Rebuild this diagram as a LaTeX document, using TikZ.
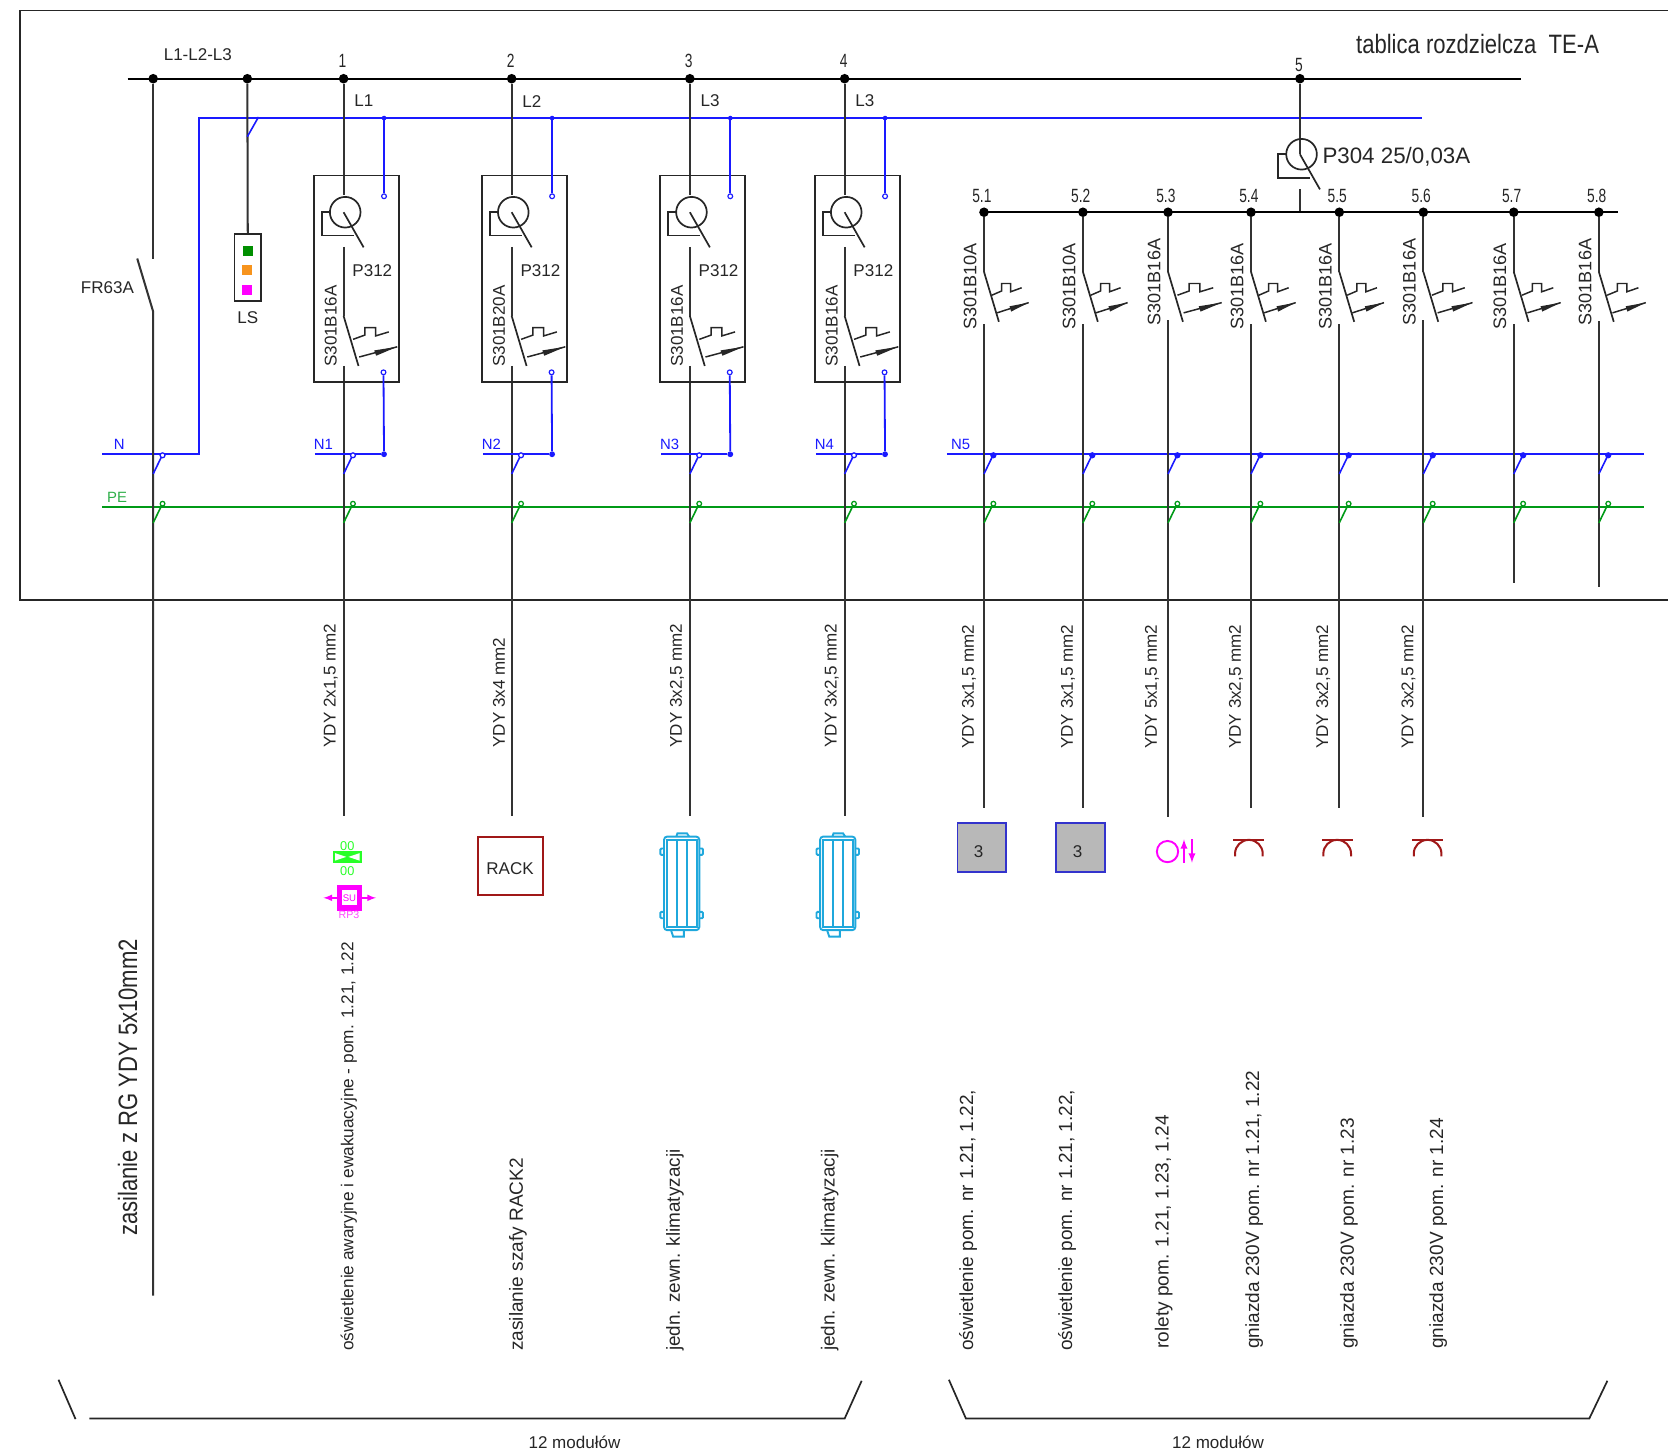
\documentclass[tikz,border=0pt]{standalone}
\usepackage{fontspec}
\setmainfont{Liberation Sans}
\usepackage{graphicx}
\usetikzlibrary{arrows}

\definecolor{nblue}{HTML}{1A1AFF}
\definecolor{pegreen}{HTML}{009A17}
\definecolor{petext}{HTML}{2FAF4A}
\definecolor{unitblue}{HTML}{1FA8DC}
\definecolor{sockred}{HTML}{A01818}
\definecolor{rollmag}{RGB}{255,0,255}
\definecolor{emgreen}{RGB}{40,255,40}
\definecolor{lampgrey}{HTML}{B8B8B8}
\definecolor{lampblue}{HTML}{3333CC}
\definecolor{lsgreen}{HTML}{008F00}
\definecolor{lsorange}{HTML}{F7941D}

\tikzset{
    wire/.style={line width=1.9pt,black!80},
    bus/.style={line width=2pt,black},
    symline/.style={line width=1.6pt,black!85},
    nline/.style={line width=1.7pt,nblue},
    peline/.style={line width=1.7pt,pegreen},
    txt/.style={font=\fontsize{16}{18}\selectfont,inner sep=0pt,text=black!85},
    vtxt/.style={txt,rotate=90,anchor=west},
    desctxt/.style={vtxt,font=\fontsize{17.9}{20}\selectfont},
    numtxt/.style={txt,font=\fontsize{18}{20}\selectfont},
    dot/.style={circle,fill=black,inner sep=0pt,minimum size=9pt},
    unitline/.style={line width=1.8pt,unitblue},
    modbox/.style={draw,line width=1.6pt,black!85,inner sep=0pt},
    ntxt/.style={txt,text=nblue,font=\fontsize{14}{16}\selectfont}
}

\newcommand{\narrow}[1]{\scalebox{.72}[1]{#1}}

\newcommand{\rcdsym}[2]{
    \begin{scope}[shift={(#1,#2)}]
        \draw[symline] (1.5,0) circle (14.4);
        \draw[symline] (-12.5,0) -- (-20.5,0) -- (-20.5,22) -- (9.5,22);
        \draw[symline] (0,0) -- (18.8,33);
    \end{scope}
}
\newcommand{\breakersym}[3]{
    \begin{scope}[shift={(#1,#2)}]
        \draw[symline] (0,0) -- (14,47);
        \begin{scope}[xscale=#3]
            \draw[symline,line width=1.4pt] (7.4,22) -- (16.6,18) -- (16.6,11) -- (25,11) -- (25,18.8) -- (35.4,15);
            \draw[symline,line width=1.4pt] (12.2,38.6) -- (42,29);
            \fill[black!85] (42,29) -- (24,32.4) -- (25.5,37.4) -- cycle;
        \end{scope}
    \end{scope}
}
\newcommand{\ntap}[2]{
    \draw[line width=1.5pt,nblue] (#1,445.5) -- (#1+8,429);
    \draw[line width=1.2pt,nblue,fill=#2] (#1+8.8,428) circle (2.3);
}
\newcommand{\petap}[1]{
    \draw[line width=1.5pt,pegreen] (#1,491.5) -- (#1+8,475);
    \draw[line width=1.2pt,pegreen] (#1+8.8,473.5) circle (2.2);
}
\newcommand{\climunit}[1]{
    \begin{scope}[shift={(#1,830.4)}]
        \draw[unitline,rounded corners=3pt] (-16.6,-44) rectangle (16.6,44);
        \draw[unitline] (-14,-41) rectangle (14,41);
        \draw[unitline] (-4.7,-41) -- (-4.7,41) (4.7,-41) -- (4.7,41);
        \draw[unitline] (-5,-44) -- (-4,-47) -- (5,-47) -- (7,-44);
        \draw[unitline] (-10,44) -- (-8,50) -- (2,50) -- (2,45);
        \foreach \sx/\sy in {-1/-1,1/-1,-1/1,1/1}
            \draw[unitline,rounded corners=1pt] (\sx*16.6,\sy*29.8-3) -- (\sx*20,\sy*29.8-3) -- (\sx*20,\sy*29.8+3) -- (\sx*16.6,\sy*29.8+3);
    \end{scope}
}

\begin{document}
\begin{tikzpicture}[x=1pt,y=-1pt]
    \useasboundingbox (0,0) rectangle (1568,1363);

    \coordinate (frameA) at (1568,10);
    \coordinate (frameB) at (19,10);
    \coordinate (frameC) at (19,564);
    \coordinate (frameD) at (1568,564);
    \draw[line width=1.6pt,black!85] (frameA) -- (frameB) -- (frameC) -- (frameD);

    \coordinate (busL) at (120,74);
    \coordinate (busR) at (1430,74);
    \draw[bus] (busL) -- (busR);
    \coordinate (busNa) at (96,427);
    \coordinate (busNb) at (187,427);
    \coordinate (busNc) at (187,111);
    \coordinate (busNd) at (1337,111);
    \draw[nline] (busNa) -- (busNb) -- (busNc) -- (busNd);
    \coordinate (busNe) at (890,427);
    \coordinate (busNf) at (1545,427);
    \draw[nline] (busNe) -- (busNf);
    \coordinate (busPa) at (96,476.5);
    \coordinate (busPb) at (1545,476.5);
    \draw[peline] (busPa) -- (busPb);

    \node[txt] (title) at (1389,41) {\fontsize{25}{27}\selectfont\scalebox{.83}[1]{tablica rozdzielcza\ \ TE-A}};
    \node[txt] (busname) at (186,51) {L1-L2-L3};

    % incoming feeder
    \node[dot] (dotIn) at (144,74) {};
    \coordinate (swA) at (144,243);
    \coordinate (swB) at (129,243);
    \coordinate (swC) at (144,293);
    \coordinate (feedEnd) at (144,1218);
    \draw[wire] (dotIn) -- (swA);
    \draw[wire] (swB) -- (swC) -- (feedEnd);
    \node[txt] (fr) at (101,270) {FR63A};
    \node[vtxt,font=\fontsize{25}{27}\selectfont] (feedtxt) at (120,1162) {\scalebox{.83}[1]{zasilanie z RG YDY 5x10mm2}};
    \ntap{144}{white}
    \petap{144}

    % surge arrester
    \node[dot] (dotLs) at (232.5,74) {};
    \node[modbox,minimum width=25pt,minimum height=63pt] (lsbox) at (233,251.5) {};
    \draw[wire] (dotLs) -- (lsbox);
    \draw[line width=1.5pt,nblue] (232.5,128.5) -- (243,110);
    \fill[lsgreen] (228.3,231.3) rectangle ++(9.4,9.4);
    \fill[lsorange] (227.6,249.3) rectangle ++(9.4,9.4);
    \fill[rollmag] (227.6,267.9) rectangle ++(9.4,9.4);
    \node[txt] (ls) at (233,298.5) {LS};

    % feeders with P312
    \foreach \n/\x/\ph/\brk/\cable/\dx/\desc/\dfont in {
        1/323/L1/S301B16A/{YDY 2x1,5 mm2}/5/{oświetlenie awaryjne i ewakuacyjne - pom. 1.21, 1.22}/16.2,
        2/481/L2/S301B20A/{YDY 3x4 mm2}/6/{zasilanie szafy RACK2}/17.9,
        3/648.5/L3/S301B16A/{YDY 3x2,5 mm2}/-14/{jedn. zewn. klimatyzacji}/17.8,
        4/794/L3/S301B16A/{YDY 3x2,5 mm2}/-14/{jedn. zewn. klimatyzacji}/17.8} {
        \node[dot] (dot\n) at (\x,74) {};
        \coordinate (rcdIn\n) at (\x,183);
        \coordinate (midA\n) at (\x,232);
        \coordinate (midB\n) at (\x,297);
        \coordinate (out\n) at (\x,344);
        \coordinate (end\n) at (\x,767);
        \draw[wire] (dot\n) -- (rcdIn\n);
        \draw[wire] (midA\n) -- (midB\n);
        \draw[wire] (out\n) -- (end\n);
        \node[modbox,minimum width=80pt,minimum height=194pt] (modbox\n) at (\x+12,262) {};
        \rcdsym{\x}{199.5}
        \breakersym{\x}{297}{1.2}
        \coordinate (nT\n) at (\x+38,111);
        \node[circle,draw=nblue,line width=1.1pt,inner sep=0pt,minimum size=4.5pt] (nA\n) at (\x+38,184.5) {};
        \node[circle,draw=nblue,line width=1.1pt,inner sep=0pt,minimum size=4.5pt] (nB\n) at (\x+37.5,350) {};
        \node[circle,fill=nblue,inner sep=0pt,minimum size=5.5pt] (nC\n) at (\x+38,427) {};
        \fill[nblue] (nT\n) circle (2.2);
        \draw[nline] (nT\n) -- (nA\n);
        \draw[nline] (nB\n) -- (nC\n);
        \coordinate (nS\n) at (\x-27,427);
        \draw[nline] (nS\n) -- (nC\n);
        \ntap{\x}{white}
        \petap{\x}
        \node[numtxt] (num\n) at (\x-1,57) {\narrow{\n}};
        \node[txt] (ph\n) at (\x+19,95) {\ph};
        \node[txt] (p\n) at (\x+27,254) {P312};
        \node[vtxt] (brk\n) at (\x-12,345) {\brk};
        \node[vtxt] (cab\n) at (\x-12,703) {\cable};
        \node[vtxt,font=\fontsize{\dfont}{20}\selectfont] (desc\n) at (\x+\dx,1270) {\desc};
        \node[ntxt] (nn\n) at (\x-19,417.5) {N\n};
    }

    % main RCD and lighting and socket feeders
    \node[dot] (dot5) at (1222,74) {};
    \coordinate (rcdC) at (1222,145);
    \coordinate (rcdD) at (1222,178);
    \coordinate (rcdE) at (1222,199);
    \draw[wire] (dot5) -- (rcdC);
    \draw[wire] (rcdD) -- (rcdE);
    \rcdsym{1222}{145}
    \node[txt,font=\fontsize{21}{23}\selectfont,anchor=west] (p304) at (1243,147) {P304 25/0,03A};
    \node[numtxt] (num5) at (1221,61) {\narrow{5}};
    \coordinate (subL) at (925,199.5);
    \coordinate (subR) at (1521,199.5);
    \draw[bus] (subL) -- (subR);
    \node[ntxt] (nn5) at (903,417.5) {N5};
    \node[ntxt,text=petext] (pe) at (110,467.5) {PE};
    \node[ntxt] (nn) at (112,417.5) {N};

    \foreach \n/\x/\brk/\bend/\bx/\ks/\ytop/\ylow in {
        1/925/S301B10A/310/912/1/305/760,
        2/1018/S301B10A/310/1005/1/305/760,
        3/1098/S301B16A/306/1085/1.2/301/768,
        4/1176/S301B16A/310/1163/1/305/760,
        5/1259/S301B16A/310/1246/1/305/760,
        6/1338/S301B16A/306/1325/1.1/301/768,
        7/1423/S301B16A/310/1410/1.05/305/548,
        8/1503/S301B16A/306/1490/1.05/302/552} {
        \node[dot] (subdot\n) at (\x,199.5) {};
        \coordinate (subA\n) at (\x,255.5);
        \coordinate (subT\n) at (\x,\ytop);
        \coordinate (subE\n) at (\x,\ylow);
        \draw[wire] (subdot\n) -- (subA\n);
        \draw[wire] (subT\n) -- (subE\n);
        \breakersym{\x}{255.5}{\ks}
        \node[numtxt] (subnum\n) at (\x-2,184) {\narrow{5.\n}};
        \node[vtxt,font=\fontsize{17}{19}\selectfont] (subbrk\n) at (\bx,\bend) {\brk};
        \ntap{\x}{nblue}
        \petap{\x}
    }

    \foreach \n/\x/\cable in {
        1/911/{YDY 3x1,5 mm2},
        2/1004/{YDY 3x1,5 mm2},
        3/1083/{YDY 5x1,5 mm2},
        4/1162/{YDY 3x2,5 mm2},
        5/1244/{YDY 3x2,5 mm2},
        6/1324/{YDY 3x2,5 mm2}}
        \node[vtxt] (subcab\n) at (\x,704) {\cable};

    \foreach \n/\x/\y/\desc in {
        1/910/1270/{oświetlenie pom. nr 1.21, 1.22,},
        2/1003/1270/{oświetlenie pom. nr 1.21, 1.22,},
        3/1094/1268/{rolety pom. 1.21, 1.23, 1.24},
        4/1179/1268/{gniazda 230V pom. nr 1.21, 1.22},
        5/1268/1268/{gniazda 230V pom. nr 1.23},
        6/1352/1268/{gniazda 230V pom. nr 1.24}}
        \node[desctxt] (subdesc\n) at (\x,\y) {\desc};

    % receivers
    \node[draw=sockred,line width=1.9pt,minimum width=61pt,minimum height=54pt,inner sep=0pt] (rack) at (479.5,814) {};
    \node[txt] (racktxt) at (479.5,817) {RACK};
    \climunit{640.8}
    \climunit{787.5}
    \foreach \n/\x in {1/923,2/1016} {
        \node[draw=lampblue,fill=lampgrey,line width=1.6pt,minimum size=46pt,inner sep=0pt] (lamp\n) at (\x,796.5) {};
        \node[txt] (lamptxt\n) at (\x-3,800.5) {3};
    }

    \fill[emgreen] (313,800) rectangle (340,811);
    \fill[white] (315,802) -- (315,809) -- (325.5,805.5) -- cycle;
    \fill[white] (338,802) -- (338,809) -- (327.5,805.5) -- cycle;
    \node[txt,text=emgreen,font=\fontsize{12}{14}\selectfont] (emA) at (326.5,795) {00};
    \node[txt,text=emgreen,font=\fontsize{12}{14}\selectfont] (emB) at (326.5,819) {00};
    \node[draw=rollmag,line width=5pt,minimum size=19pt,inner sep=0pt,font=\fontsize{9}{10}\selectfont,text=rollmag] (su) at (328.5,844) {SU};
    \coordinate (suL) at (304,844);
    \coordinate (suR) at (353.5,844);
    \draw[rollmag,line width=1.8pt,-latex] (su) -- (suL);
    \draw[rollmag,line width=1.8pt,-latex] (su) -- (suR);
    \node[txt,text=rollmag!70!white,font=\fontsize{10}{11}\selectfont] (rp) at (328,860) {RP3};

    \node[circle,draw=rollmag,line width=1.8pt,minimum size=20pt,inner sep=0pt] (roller) at (1097.5,800.5) {};
    \draw[rollmag,line width=2pt,-latex] (1113,811) -- (1113,789);
    \draw[rollmag,line width=2pt,-latex] (1120.5,789) -- (1120.5,811);

    \foreach \x in {1174,1257,1342} {
        \draw[sockred,line width=1.9pt] (\x-14.5,789.5) -- (\x+14.5,789.5);
        \draw[sockred,line width=1.9pt] (\x-13,805) -- (\x-13,802.5) arc[start angle=180,end angle=360,radius=13] -- (\x+13,805);
    }

    % module widths
    \coordinate (brA) at (55,1297);
    \coordinate (brB) at (71,1334);
    \coordinate (brC) at (84,1333.5);
    \coordinate (brD) at (794,1333.5);
    \coordinate (brE) at (810,1298);
    \draw[symline] (brA) -- (brB);
    \draw[symline] (brC) -- (brD) -- (brE);
    \coordinate (brF) at (892,1297);
    \coordinate (brG) at (908,1333.5);
    \coordinate (brH) at (1494,1333.5);
    \coordinate (brI) at (1511,1298);
    \draw[symline] (brF) -- (brG) -- (brH) -- (brI);
    \node[txt] (modA) at (540,1356) {12 modułów};
    \node[txt] (modB) at (1145,1356) {12 modułów};
\end{tikzpicture}
\end{document}
